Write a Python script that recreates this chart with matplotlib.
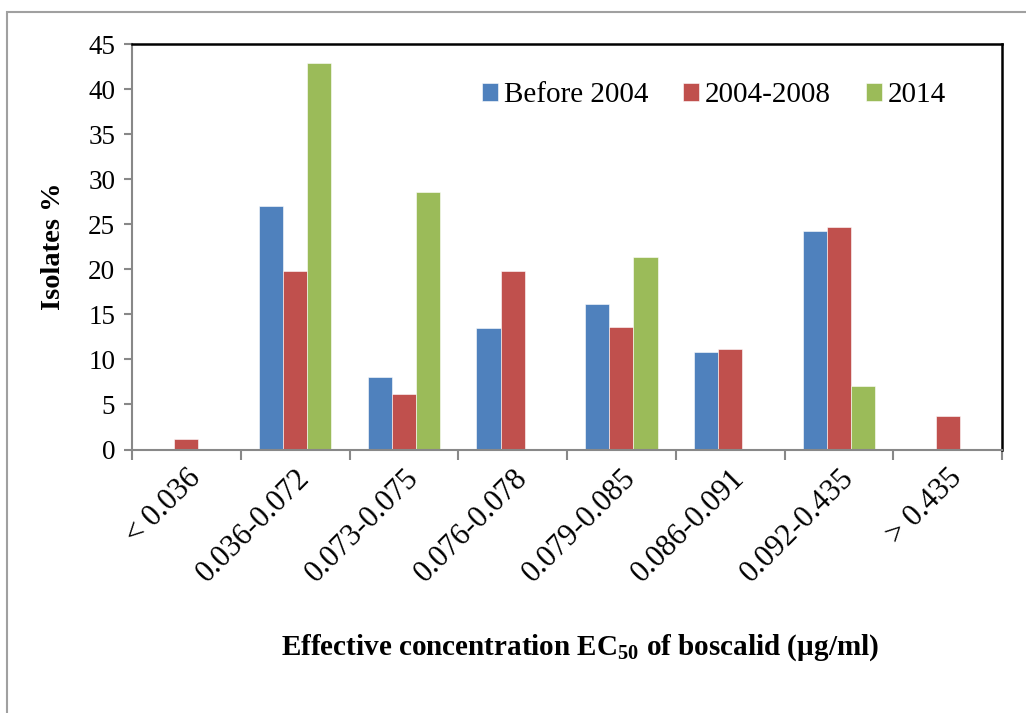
import numpy as np
import matplotlib
matplotlib.use('Agg')
import matplotlib.pyplot as plt
from matplotlib.patches import Rectangle

# dati
categories = ['< 0.036', '0.036-0.072', '0.073-0.075', '0.076-0.078',
              '0.079-0.085', '0.086-0.091', '0.092-0.435', '> 0.435']
series_names = ['Before 2004', '2004-2008', '2014']
before_2004 = [0, 27.0, 8.1, 13.5, 16.2, 10.8, 24.3, 0]
y2004_2008 = [1.2, 19.8, 6.2, 19.8, 13.6, 11.1, 24.7, 3.7]
y2014 = [0, 42.9, 28.6, 0, 21.4, 0, 7.1, 0]
colors = ['#4F81BD', '#C0504D', '#9BBB59']

plt.rcParams['font.family'] = ['Liberation Serif', 'DejaVu Serif']
plt.rcParams['mathtext.fontset'] = 'custom'
plt.rcParams['mathtext.bf'] = 'Liberation Serif:bold'
plt.rcParams['mathtext.rm'] = 'Liberation Serif'

fig = plt.figure(figsize=(10.26, 7.13), dpi=100)
ax = fig.add_axes([132/1026, 1-449.5/713, 870/1026, 405.5/713])

# cornice grigia attorno alla figura
fig.patches.append(Rectangle((7/1026, -0.1), 1.2, 1.1 - 12/713,
                             transform=fig.transFigure, fill=False,
                             edgecolor='#a0a0a0', lw=1.5, zorder=-1))

x = np.arange(len(categories))
w = 1/4.5
for i, (vals, name) in enumerate(zip([before_2004, y2004_2008, y2014], series_names)):
    ax.bar(x + (i-1)*w, vals, width=w, color=colors[i], label=name,
           edgecolor='white', linewidth=0.4)

ax.set_xlim(-0.5, len(categories)-0.5)
ax.set_ylim(0, 45)
ax.set_yticks(range(0, 46, 5))
ax.tick_params(axis='y', labelsize=19.5, length=6, width=1.5, color='#888888', pad=6)

ax.set_xticks(x)
ax.set_xticklabels(categories, rotation=45, ha='right', rotation_mode='anchor',
                   fontsize=22)
ax.tick_params(axis='x', length=0, pad=10)
ax.set_xticks(np.arange(-0.5, len(categories), 1), minor=True)
ax.tick_params(axis='x', which='minor', length=7, width=1.5, color='#888888')

for s in ['left', 'bottom']:
    ax.spines[s].set_color('#888888')
    ax.spines[s].set_linewidth(1.5)
for s in ['top', 'right']:
    ax.spines[s].set_color('black')
    ax.spines[s].set_linewidth(1.8)

ax.set_ylabel('Isolates %', fontsize=20.5, fontweight='bold', labelpad=16)
fig.text(580/1026, 1-648/713, r'Effective concentration EC$_{\mathbf{50}}$ of boscalid (µg/ml)',
         fontsize=21, fontweight='bold', ha='center', va='center')

ax.legend(loc='center left', bbox_to_anchor=(0.402, 0.874), ncol=3, frameon=False,
          fontsize=21, handlelength=0.55, handleheight=0.55, handletextpad=0.2,
          columnspacing=1.2, borderpad=0, borderaxespad=0)

fig.savefig('out.png', dpi=100)
